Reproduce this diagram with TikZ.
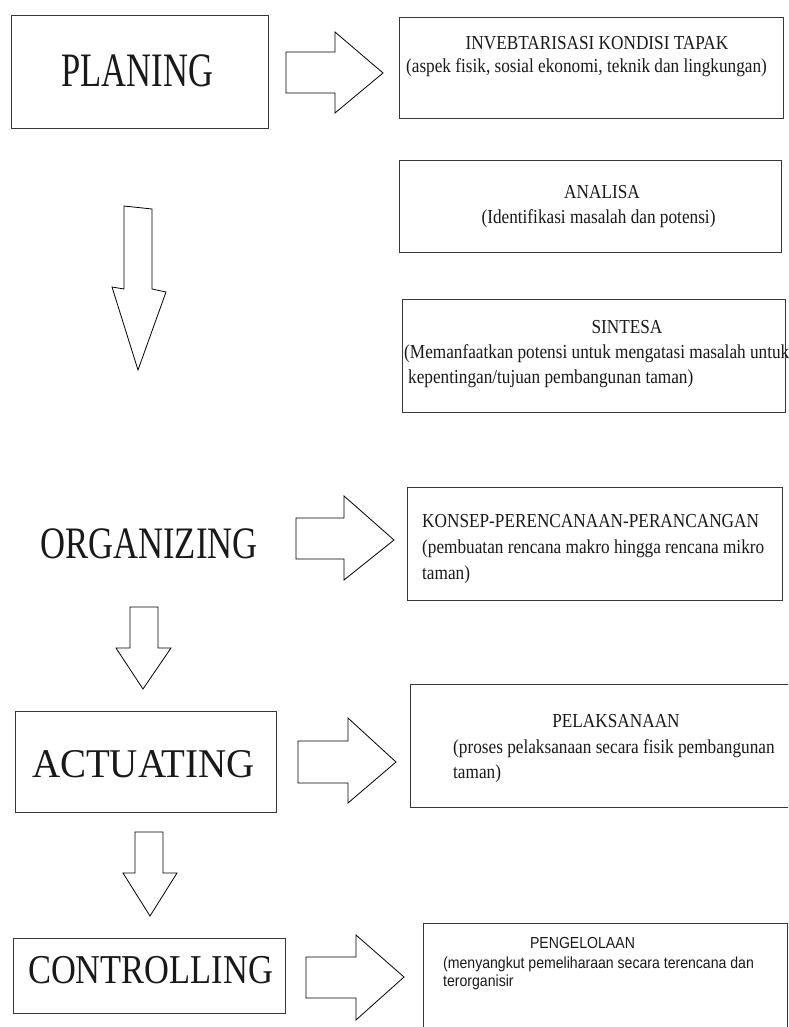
\documentclass[tikz,border=0pt]{standalone}
\usepackage{graphicx}
\usepackage{fontspec}
\setmainfont{Liberation Serif}
\newfontfamily\bodyfont[FakeStretch=0.87]{Liberation Serif}
\newfontfamily\sansbody[FakeStretch=0.88]{Liberation Sans}
\definecolor{boxgray}{RGB}{55,55,55}
\definecolor{ink}{RGB}{25,25,25}
\newcommand\titletext[3]{\scalebox{#1}[1]{\fontsize{#2}{#2}\selectfont #3}}
\tikzset{
  box/.style={draw=boxgray, line width=0.85pt, inner sep=0pt},
  openbox/.style={inner sep=0pt},
  openline/.style={draw=boxgray, line width=0.85pt},
  blockarrow/.style={draw=black, line width=0.8pt, line join=miter},
  title/.style={anchor=base, inner sep=0pt, text=ink},
  body/.style={anchor=base, inner sep=0pt, text=ink, font=\bodyfont\fontsize{19.8}{24}\selectfont},
  bodyleft/.style={body, anchor=base west},
  sbody/.style={anchor=base, inner sep=0pt, text=ink, font=\sansbody\fontsize{16}{18}\selectfont},
  sbodyleft/.style={sbody, anchor=base west},
}
\begin{document}
\begin{tikzpicture}[x=1pt,y=-1pt]
\useasboundingbox (0,0) rectangle (788,1027);

% ---------- left boxes ----------
\node[box, minimum width=257, minimum height=113] (planbox) at (139.5,71.5) {};
\node[title] (plan) at (137.5,87) {\titletext{0.72}{48}{PLANING}};

\node[title] (org) at (149,558) {\titletext{0.77}{45}{ORGANIZING}};

\node[box, minimum width=261, minimum height=101] (actbox) at (145.5,761.5) {};
\node[title] (act) at (143.5,777) {\titletext{0.955}{40.8}{ACTUATING}};

\node[box, minimum width=272, minimum height=75] (ctrlbox) at (149,975.5) {};
\node[title] (ctrl) at (150.5,983) {\titletext{0.84}{41}{CONTROLLING}};

% ---------- right boxes ----------
\node[box, minimum width=384, minimum height=101] (invbox) at (591,67.5) {};
\node[body] (inv1) at (597,50) {INVEBTARISASI KONDISI TAPAK};
\node[body] (inv2) at (586.5,73) {(aspek fisik, sosial ekonomi, teknik dan lingkungan)};

\node[box, minimum width=382, minimum height=92] (anabox) at (590,206) {};
\node[body] (ana1) at (602,198) {ANALISA};
\node[body] (ana2) at (598.5,223) {(Identifikasi masalah dan potensi)};

\node[box, minimum width=383, minimum height=113] (sinbox) at (593.5,355.5) {};
\node[body] (sin1) at (627,333) {SINTESA};
\node[bodyleft] (sin2) at (404,358) {(Memanfaatkan potensi untuk mengatasi masalah untuk};
\node[bodyleft] (sin3) at (408,383) {kepentingan/tujuan pembangunan taman)};

\node[box, minimum width=375, minimum height=113] (konbox) at (594.5,543.5) {};
\node[bodyleft] (kon1) at (422,527) {KONSEP-PERENCANAAN-PERANCANGAN};
\node[bodyleft] (kon2) at (422,553) {(pembuatan rencana makro hingga rencana mikro};
\node[bodyleft] (kon3) at (422,579) {taman)};

\node[openbox, minimum width=377, minimum height=122] (pelbox) at (599.5,746) {};
\draw[openline] (pelbox.north east) -- (pelbox.north west) -- (pelbox.south west) -- (pelbox.south east);
\node[body] (pel1) at (616,727) {PELAKSANAAN};
\node[bodyleft] (pel2) at (453,753) {(proses pelaksanaan secara fisik pembangunan};
\node[bodyleft] (pel3) at (453,778) {taman)};

\node[openbox, minimum width=363, minimum height=103] (pengbox) at (605.5,975.5) {};
\draw[openline] (pengbox.south west) -- (pengbox.north west) -- (pengbox.north east) -- (pengbox.south east);
\node[sbody] (peng1) at (582.5,948) {PENGELOLAAN};
\node[sbodyleft] (peng2) at (443,968) {(menyangkut pemeliharaan secara terencana dan};
\node[sbodyleft] (peng3) at (443,986) {terorganisir};

% ---------- block arrows ----------
% right arrows
\draw[blockarrow] (286,52) -- (335,52) -- (335,32) -- (383,73) -- (335,113) -- (335,93) -- (286,93) -- cycle;
\draw[blockarrow] (296,518) -- (344,518) -- (344,496) -- (394,540) -- (344,580) -- (344,559) -- (296,559) -- cycle;
\draw[blockarrow] (298,741) -- (348,741) -- (348,718) -- (396,762) -- (348,803) -- (348,783) -- (298,783) -- cycle;
\draw[blockarrow] (306,957) -- (356,957) -- (356,935) -- (404,977) -- (356,1020) -- (356,998) -- (306,998) -- cycle;
% down arrows
\draw[blockarrow] (124,206) -- (152,209) -- (152,289) -- (166,292) -- (138,370) -- (112,287) -- (124,289) -- cycle;
\draw[blockarrow] (130,607) -- (158,607) -- (158,648) -- (171,648) -- (143,689) -- (116,648) -- (130,648) -- cycle;
\draw[blockarrow] (135,832) -- (163,832) -- (163,873) -- (177,873) -- (150,916) -- (123,873) -- (135,873) -- cycle;
\end{tikzpicture}
\end{document}
